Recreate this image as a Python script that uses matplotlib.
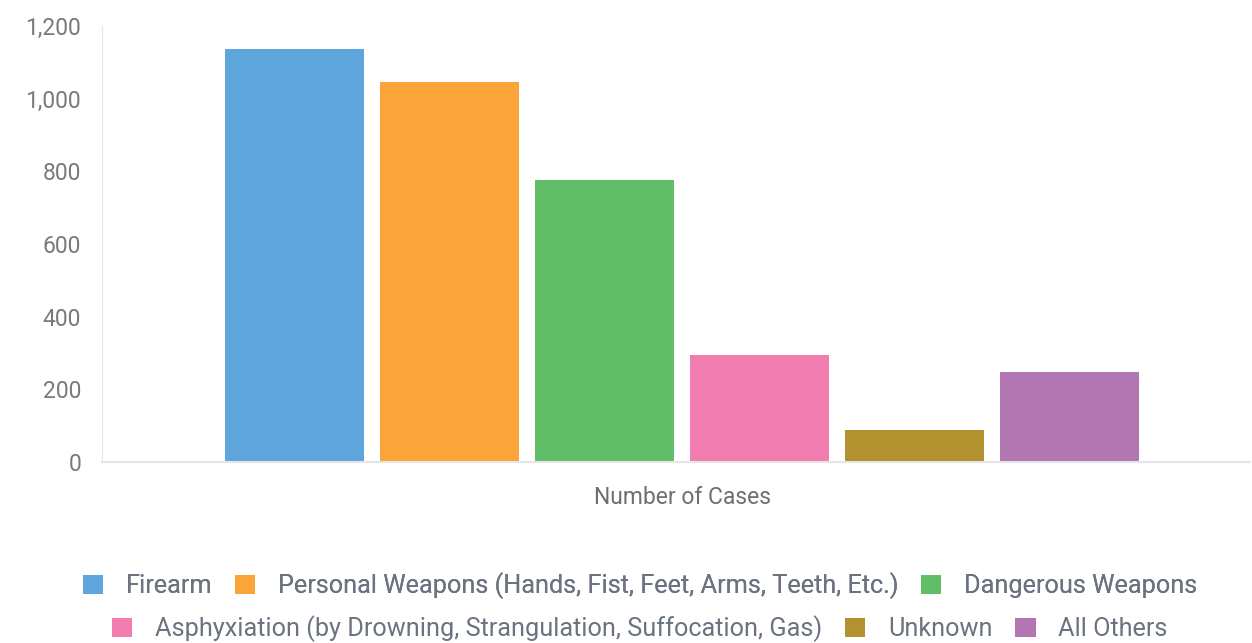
import matplotlib.pyplot as plt
from matplotlib.patches import Patch

plt.rcParams['font.family'] = ['Roboto', 'DejaVu Sans']

# data
weapons = ["Firearm",
           "Personal Weapons (Hands, Fist, Feet, Arms, Teeth, Etc.)",
           "Dangerous Weapons",
           "Asphyxiation (by Drowning, Strangulation, Suffocation, Gas)",
           "Unknown",
           "All Others"]
cases = [1137, 1046, 776, 294, 88, 248]
colors = ["#5DA5DA", "#FAA43A", "#60BD68", "#F17CB0", "#B2912F", "#B276B2"]
category = "Number of Cases"
yticks = [0, 200, 400, 600, 800, 1000, 1200]

fig = plt.figure(figsize=(12.52, 6.43), dpi=100)
ax = fig.add_axes([102 / 1252, 1 - 462 / 643, 1148 / 1252, 436 / 643])

bars = []
for i, (v, c) in enumerate(zip(cases, colors)):
    b = ax.bar(i, v, width=139 / 155, color=c, edgecolor='none')
    bars.append(b)

ax.set_xlim((102 - 294.5) / 155, (1250 - 294.5) / 155)
ax.set_ylim(0, 1200)
ax.set_yticks(yticks)
ax.set_yticklabels([f"{t:,}" for t in yticks])
ax.set_xticks([])
ax.tick_params(axis='y', length=0, pad=15, labelsize=16.5, labelcolor='#7a7a7a')

for s in ['top', 'right']:
    ax.spines[s].set_visible(False)
ax.spines['left'].set_color('#e6e6e6')
ax.spines['bottom'].set_color('#e6e6e6')
ax.spines['bottom'].set_linewidth(1.5)

fig.text(682 / 1252, 1 - 498 / 643, category, ha='center', va='center',
         fontsize=16.5, color='#6f6f6f')

handles = [Patch(facecolor=c, edgecolor='none') for c in colors]
leg_kw = dict(loc='center', ncol=3, frameon=False, fontsize=18.2,
              handlelength=0.8, handleheight=0.8, handletextpad=0.9,
              columnspacing=0.9, labelcolor='#6b7380')
l1 = fig.legend(handles[:3], weapons[:3], bbox_to_anchor=(640 / 1252, 1 - 586 / 643), **leg_kw)
fig.add_artist(l1)
fig.legend(handles[3:], weapons[3:], bbox_to_anchor=(640 / 1252, 1 - 629 / 643), **leg_kw)

fig.savefig("out.png", dpi=100)
